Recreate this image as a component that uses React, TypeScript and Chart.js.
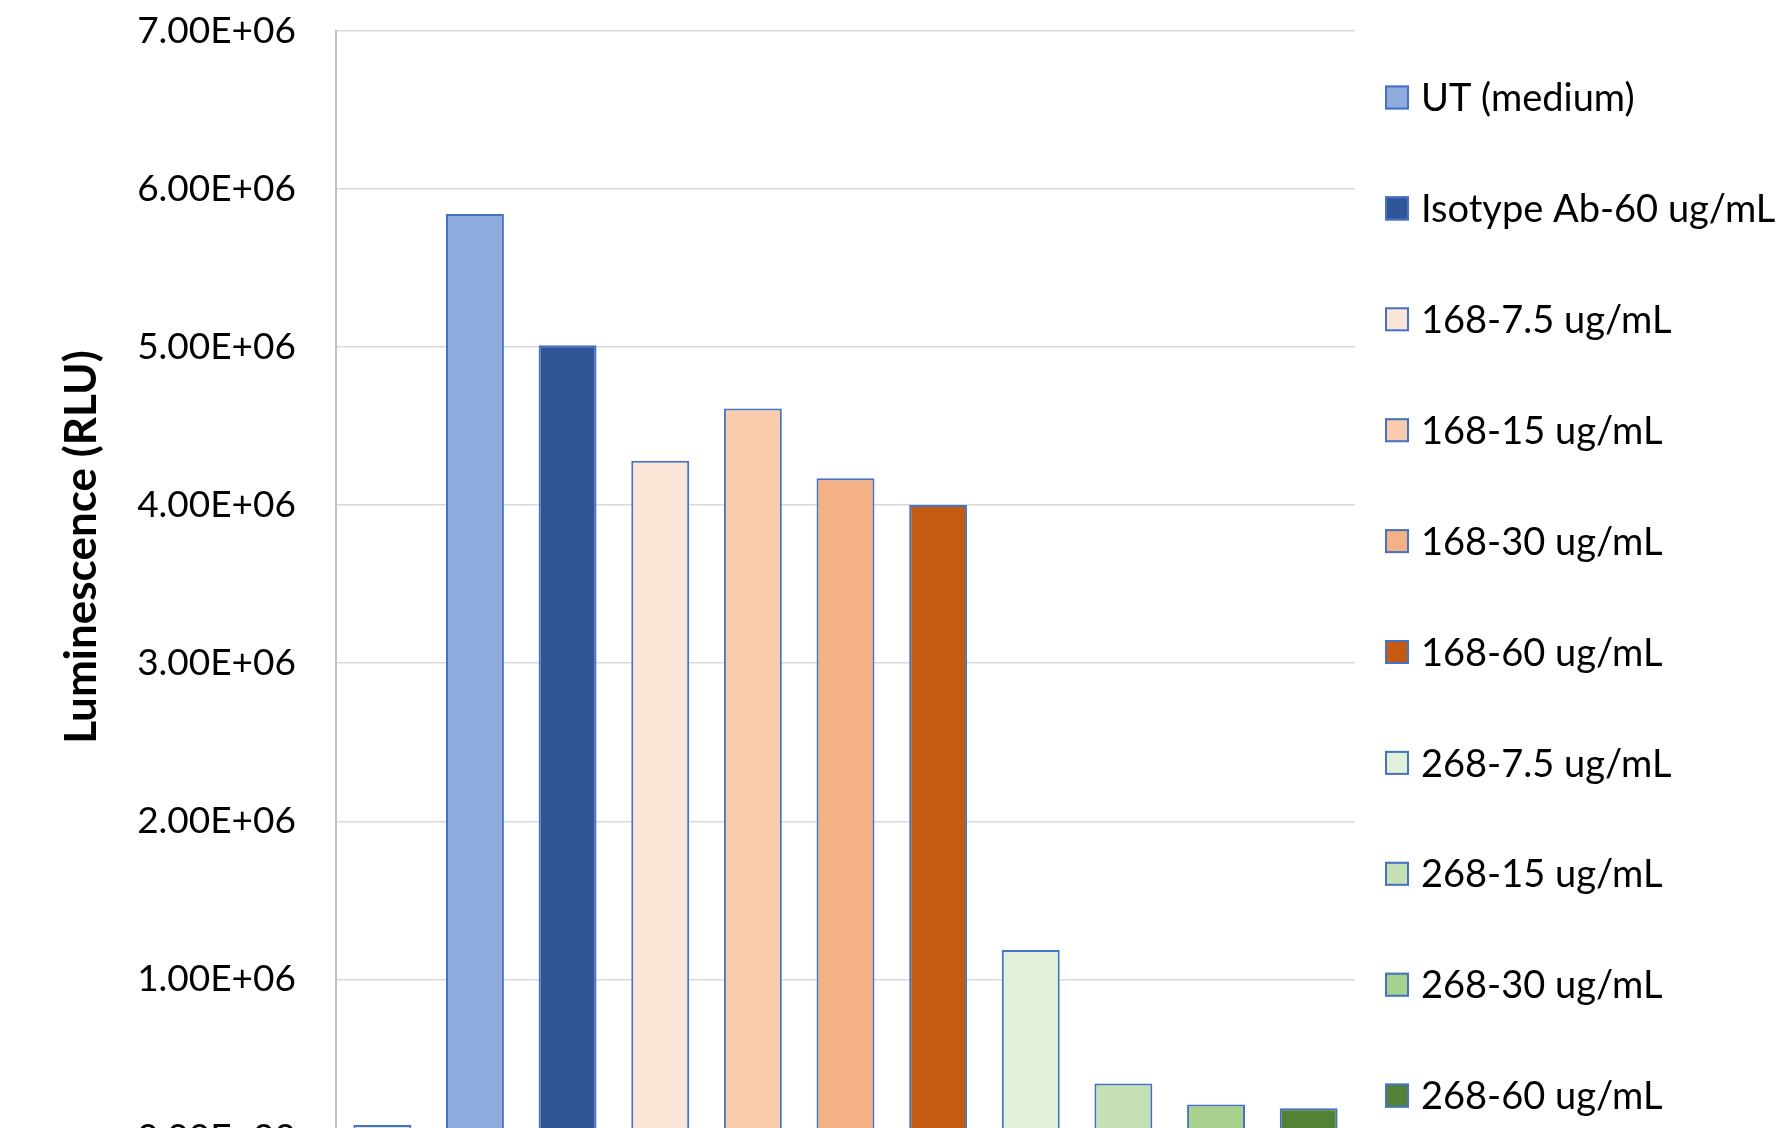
import React, { useEffect, useRef } from "react";
import { Chart, registerables } from "chart.js";

Chart.register(...registerables);

const categories: string[] = [
  "Cells alone",
  "UT (medium)",
  "Isotype Ab-60 ug/mL",
  "168-7.5 ug/mL",
  "168-15 ug/mL",
  "168-30 ug/mL",
  "168-60 ug/mL",
  "268-7.5 ug/mL",
  "268-15 ug/mL",
  "268-30 ug/mL",
  "268-60 ug/mL",
];

const luminescence: number[] = [
  80000, 5840000, 5010000, 4280000, 4610000, 4170000, 4000000, 1186000, 342000, 210000, 186000,
];

const barColors: string[] = [
  "#DAE3F3",
  "#8FAADC",
  "#2F5597",
  "#FBE5D6",
  "#F8CBAD",
  "#F4B183",
  "#C55A11",
  "#E2F0D9",
  "#C5E0B4",
  "#A9D18E",
  "#548235",
];

const yMin = 0;
const yMax = 7000000;
const yStep = 1000000;
const yTitle = "Luminescence (RLU)";

const FONT = "Lato, 'Open Sans', 'DejaVu Sans', sans-serif";

function sci(v: number): string {
  const [m, e] = v.toExponential(2).split("e");
  const n = parseInt(e, 10);
  const sign = n < 0 ? "-" : "+";
  const abs = Math.abs(n).toString().padStart(2, "0");
  return `${m}E${sign}${abs}`;
}

const legendPlugin = {
  id: "customLegend",
  afterDraw(chart: any) {
    const ctx = chart.ctx;
    const x0 = 1385;
    const boxSize = 24;
    const textX = 1421;
    const yFirst = -13.4;
    const step = 110.9;
    const fs = 38;
    ctx.save();
    ctx.font = `${fs}px ${FONT}`;
    ctx.textAlign = "left";
    ctx.textBaseline = "alphabetic";
    categories.forEach((lab, i) => {
      const cy = yFirst + i * step;
      ctx.fillStyle = barColors[i];
      ctx.fillRect(x0, cy - boxSize / 2, boxSize, boxSize);
      ctx.strokeStyle = "#4472C4";
      ctx.lineWidth = 2;
      ctx.strokeRect(x0 + 1, cy - boxSize / 2 + 1, boxSize - 2, boxSize - 2);
      ctx.fillStyle = "#000000";
      ctx.fillText(lab, textX, cy + fs * 0.36);
    });
    ctx.restore();
  },
};

const yTitlePlugin = {
  id: "yTitleCustom",
  afterDraw(chart: any) {
    const ctx = chart.ctx;
    ctx.save();
    ctx.translate(82, 547);
    ctx.rotate(-Math.PI / 2);
    ctx.font = `bold 44px ${FONT}`;
    ctx.fillStyle = "#000000";
    ctx.textAlign = "center";
    ctx.textBaseline = "middle";
    ctx.fillText(yTitle, 0, 0);
    ctx.restore();
  },
};

export default function App() {
  const canvasRef = useRef<HTMLCanvasElement | null>(null);

  useEffect(() => {
    if (!canvasRef.current) return;
    const chart = new Chart(canvasRef.current, {
      type: "bar",
      data: {
        labels: categories,
        datasets: [
          {
            label: "Luminescence",
            data: luminescence,
            backgroundColor: barColors,
            borderColor: "#4472C4",
            borderWidth: 2,
            barPercentage: 0.625,
            categoryPercentage: 1.0,
          },
        ],
      },
      options: {
        animation: false,
        responsive: false,
        devicePixelRatio: 1,
        layout: { padding: { left: 0, right: 423, top: 30.6, bottom: 62.4 } },
        plugins: {
          legend: { display: false },
          tooltip: { enabled: false },
          title: { display: false },
        },
        scales: {
          x: {
            display: false,
            offset: true,
            grid: { display: false },
          },
          y: {
            min: yMin,
            max: yMax,
            afterFit: (scale: any) => {
              scale.width = 336;
            },
            ticks: {
              stepSize: yStep,
              padding: 0,
              color: "#000000",
              font: { family: FONT, size: 37 },
              callback: (v: any) => sci(Number(v)),
            },
            grid: {
              color: "#D9D9D9",
              lineWidth: 1.5,
              drawTicks: true,
              tickLength: 40,
              tickColor: "rgba(0,0,0,0)",
            },
            border: { display: true, color: "#BFBFBF", width: 2 },
          },
        },
      },
      plugins: [legendPlugin, yTitlePlugin],
    });
    return () => chart.destroy();
  }, []);

  return (
    <div
      style={{
        position: "fixed",
        left: 0,
        top: 0,
        width: 1778,
        height: 1128,
        overflow: "hidden",
        background: "#ffffff",
      }}
    >
      <canvas
        ref={canvasRef}
        width={1778}
        height={1200}
        style={{ display: "block", width: 1778, height: 1200 }}
      />
    </div>
  );
}
